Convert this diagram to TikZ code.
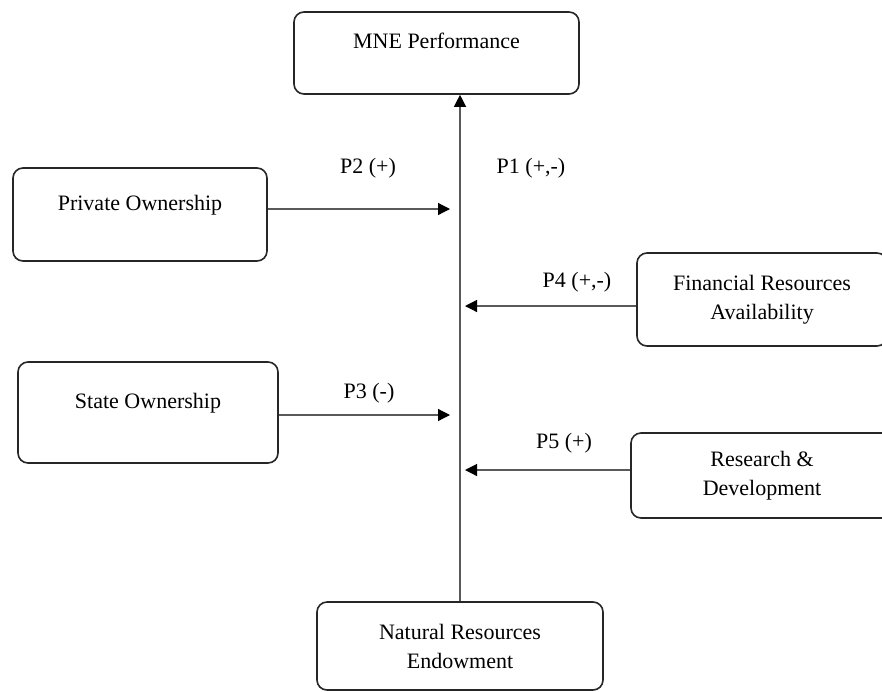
\documentclass[tikz,border=0pt]{standalone}
\usepackage{fontspec}
\setmainfont{Liberation Serif}
\usetikzlibrary{arrows.meta}
\begin{document}
\begin{tikzpicture}[x=0.5pt,y=-0.5pt,
		box/.style={draw=black!85,line width=0.8pt,rounded corners=5pt,align=center,inner sep=0pt,font=\fontsize{11}{14.5}\selectfont},
		onebox/.style={box,text depth=12pt},
		link/.style={draw=black!65,line width=0.6pt,-{Triangle[length=6pt,width=6pt,color=black]}},
		lab/.style={font=\fontsize{11}{14.5}\selectfont}]
			\useasboundingbox (0,0) rectangle (882,691);
			\clip (0,0) rectangle (882,691);
			% boxes
			\node[onebox,minimum width=142.5pt,minimum height=41pt] (mne) at (436.5,53) {MNE Performance};
			\node[onebox,minimum width=127pt,minimum height=46.5pt] (priv) at (140,214.5) {Private Ownership};
			\node[onebox,minimum width=130pt,minimum height=50.5pt] (state) at (148,412.5) {State Ownership};
			\node[box,minimum width=125pt,minimum height=46.5pt] (fin) at (762,299.5) {Financial Resources\\Availability};
			\node[box,minimum width=131pt,minimum height=42.5pt] (rd) at (762,475.5) {Research \&\\Development};
			\node[box,minimum width=143pt,minimum height=44pt] (nat) at (460,646) {Natural Resources\\Endowment};
			% arrow ends
			\coordinate (e2) at (450,209);
			\coordinate (e3) at (450,415);
			\coordinate (e4) at (465,306);
			\coordinate (e5) at (465,470);
			\draw[link] (nat.north) -- (nat.north |- mne.south);
			\draw[link] (priv.east |- e2) -- (e2);
			\draw[link] (state.east |- e3) -- (e3);
			\draw[link] (fin.west |- e4) -- (e4);
			\draw[link] (rd.west |- e5) -- (e5);
			% labels
			\node[lab] (p1) at (531,168) {P1 (+,-)};
			\node[lab] (p2) at (368,168) {P2 (+)};
			\node[lab] (p3) at (369,393) {P3 (-)};
			\node[lab] (p4) at (577,282) {P4 (+,-)};
			\node[lab] (p5) at (564,443) {P5 (+)};
		\end{tikzpicture}
\end{document}
